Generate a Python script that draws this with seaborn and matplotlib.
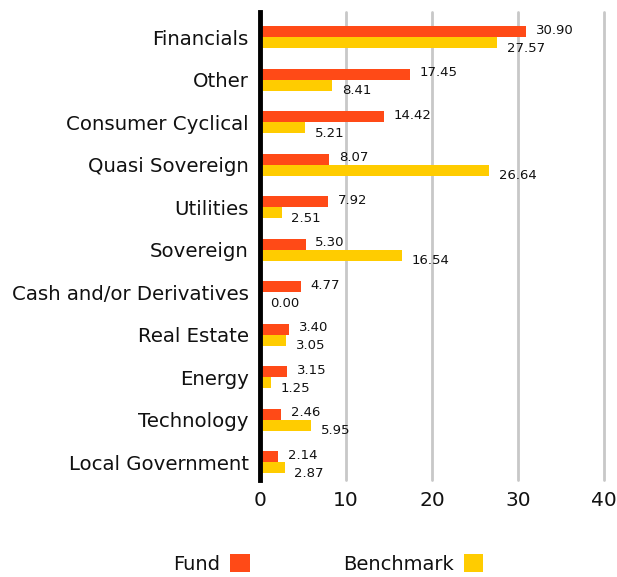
import matplotlib
matplotlib.use("Agg")
import matplotlib.pyplot as plt
import seaborn as sns
import pandas as pd

categories = ["Financials", "Other", "Consumer Cyclical", "Quasi Sovereign", "Utilities",
              "Sovereign", "Cash and/or Derivatives", "Real Estate", "Energy", "Technology",
              "Local Government"]
fund = [30.90, 17.45, 14.42, 8.07, 7.92, 5.30, 4.77, 3.40, 3.15, 2.46, 2.14]
benchmark = [27.57, 8.41, 5.21, 26.64, 2.51, 16.54, 0.00, 3.05, 1.25, 5.95, 2.87]
series_names = ["Fund", "Benchmark"]
x_ticks = [0, 10, 20, 30, 40]

df = pd.DataFrame({
    "category": categories * 2,
    "value": fund + benchmark,
    "series": [series_names[0]] * len(categories) + [series_names[1]] * len(categories),
})

sns.set_style("white")
plt.rcParams["font.family"] = ["DejaVu Sans"]
plt.rcParams["text.color"] = "#111111"
plt.rcParams["xtick.color"] = "#111111"
plt.rcParams["ytick.color"] = "#111111"

colors = {"Fund": "#ff4a17", "Benchmark": "#ffcc00"}

fig = plt.figure(figsize=(6.17, 5.77), dpi=100)
ax = fig.add_axes([0.4214, 0.168, 0.979 - 0.4214, 0.979 - 0.168])

sns.barplot(data=df, y="category", x="value", hue="series", orient="h",
            palette=colors, width=0.52, ax=ax, legend=False, saturation=1,
            linewidth=0, edgecolor="none")

ax.set_xlim(0, 40)
ax.set_ylim(10.42, -0.59)
ax.set_xticks(x_ticks)
ax.set_xticklabels([str(t) for t in x_ticks], fontsize=14.5)
ax.tick_params(axis="y", labelsize=14.2, length=0, pad=8)
ax.tick_params(axis="x", length=0, pad=8)
ax.set_xlabel("")
ax.set_ylabel("")

for s in ["top", "right", "bottom"]:
    ax.spines[s].set_visible(False)
ax.spines["left"].set_linewidth(3.5)
ax.spines["left"].set_color("black")
ax.spines["left"].set_zorder(5)

for t in [10, 20, 30, 40]:
    ax.axvline(t, color="#c8c8c8", lw=2, zorder=0, clip_on=False)

# value labels
for i, (f, b) in enumerate(zip(fund, benchmark)):
    ax.annotate(f"{f:.2f}", xy=(f, i - 0.13), xytext=(7, 1), textcoords="offset points",
                ha="left", va="center", fontsize=9.5)
    ax.annotate(f"{b:.2f}", xy=(b, i + 0.13), xytext=(7, -4), textcoords="offset points",
                ha="left", va="center", fontsize=9.5)

from matplotlib.patches import Patch
handles = [Patch(facecolor=colors[n], edgecolor="none") for n in series_names]
fig.legend(handles, series_names, loc="center", bbox_to_anchor=(0.532, 0.0225), ncol=2,
           frameon=False, markerfirst=False, handlelength=1.0, handleheight=1.0,
           fontsize=14, columnspacing=4.8, handletextpad=0.5)

fig.savefig("out.png", dpi=100)
